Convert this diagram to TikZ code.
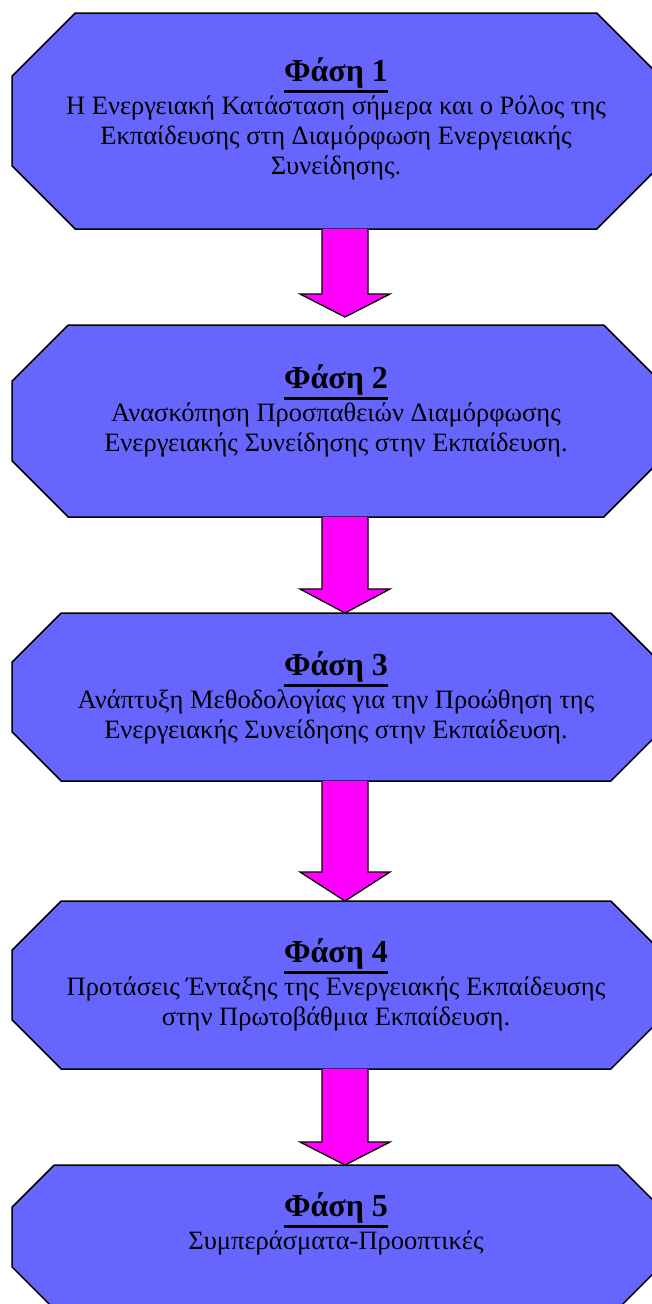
\documentclass[tikz,border=0pt]{standalone}
\usepackage{fontspec}
\setmainfont{Liberation Serif}
\usetikzlibrary{calc}
\definecolor{phaseblue}{HTML}{6666FF}
\definecolor{arrowpink}{HTML}{FF00FF}
\newcommand{\phasetitle}[1]{{\fontsize{32}{30}\selectfont\bfseries
  \vtop{\hbox{#1}\kern2pt\hrule height 2.4pt}}\\[3pt]}

\begin{document}
\begin{tikzpicture}[x=1pt,y=-1pt,
  phasebox/.style={draw=black,fill=phaseblue,line width=1.5pt,line join=miter},
  phasetext/.style={align=center,inner sep=0pt,font=\fontsize{26.5}{30}\selectfont},
  blockarrow/.style={draw=black,fill=arrowpink,line width=1.3pt,line join=miter}]
\useasboundingbox (0,0) rectangle (651,1304);
% octagons: index / top / bottom
\foreach \i/\t/\b in {1/13/229, 2/325/517, 3/613/781, 4/901/1069, 5/1165/1309}{
  \pgfmathsetmacro\c{0.2929*(\b-\t)}
  \draw[phasebox] (12,\t+\c) -- (12+\c,\t) -- (660-\c,\t) -- (660,\t+\c)
    -- (660,\b-\c) -- (660-\c,\b) -- (12+\c,\b) -- (12,\b-\c) -- cycle;
  \coordinate (top\i) at (345,\t);
  \coordinate (bot\i) at (345,\b);
}
\node[phasetext] (ph1) at (336,119) {\phasetitle{Φάση 1}
  Η Ενεργειακή Κατάσταση σήμερα και ο Ρόλος της\\
  Εκπαίδευσης στη Διαμόρφωση Ενεργειακής\\
  Συνείδησης.};
\node[phasetext] (ph2) at (336,411) {\phasetitle{Φάση 2}
  Ανασκόπηση Προσπαθειών Διαμόρφωσης\\
  Ενεργειακής Συνείδησης στην Εκπαίδευση.};
\node[phasetext] (ph3) at (336,698) {\phasetitle{Φάση 3}
  Ανάπτυξη Μεθοδολογίας για την Προώθηση της\\
  Ενεργειακής Συνείδησης στην Εκπαίδευση.};
\node[phasetext] (ph4) at (336,985) {\phasetitle{Φάση 4}
  Προτάσεις Ένταξης της Ενεργειακής Εκπαίδευσης\\
  στην Πρωτοβάθμια Εκπαίδευση.};
\node[phasetext] (ph5) at (336,1224) {\phasetitle{Φάση 5}
  Συμπεράσματα-Προοπτικές};
% block arrows between the phases
\foreach \i/\j/\gap/\h in {1/2/8/23, 2/3/0/24, 3/4/0/29, 4/5/0/23}{
  \draw[blockarrow] ($(bot\i)+(-23,0)$) -- ($(top\j)+(-23,-\gap-\h)$)
    -- ($(top\j)+(-45,-\gap-\h)$) -- ($(top\j)+(0,-\gap)$)
    -- ($(top\j)+(45,-\gap-\h)$) -- ($(top\j)+(23,-\gap-\h)$)
    -- ($(bot\i)+(23,0)$);
}
\end{tikzpicture}
\end{document}
